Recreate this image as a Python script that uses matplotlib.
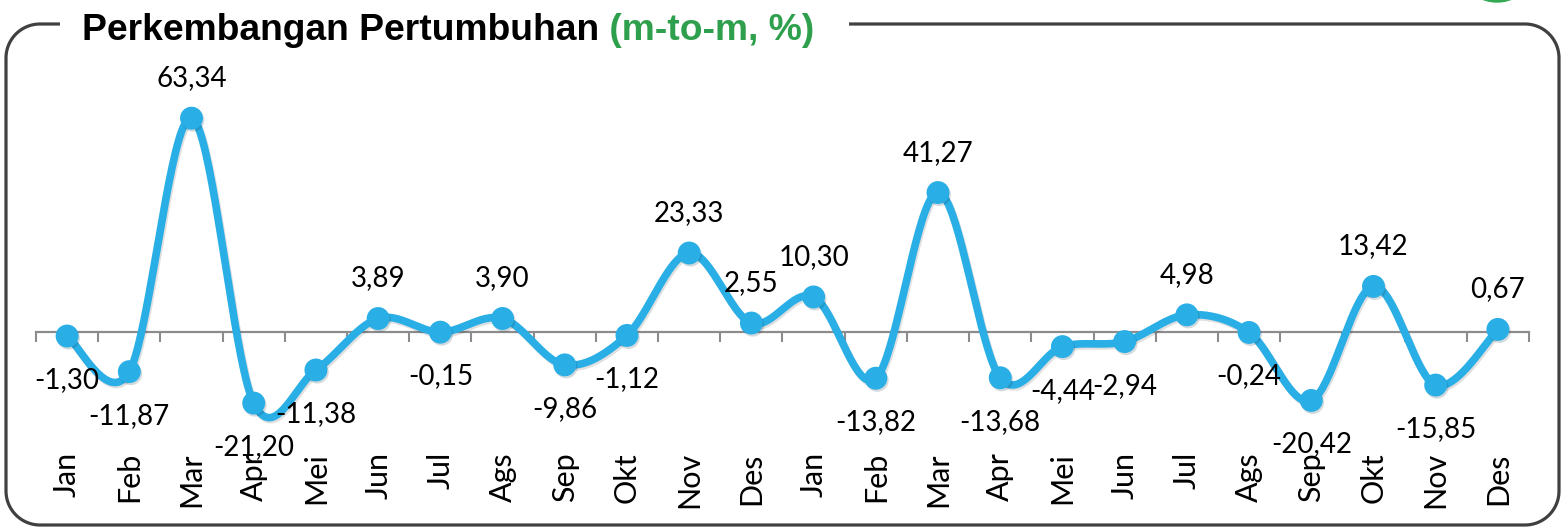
import numpy as np
import matplotlib
matplotlib.use("Agg")
import matplotlib.pyplot as plt
from matplotlib import patheffects as pe
from matplotlib.patches import Ellipse

plt.rcParams['font.family'] = ['Lato', 'DejaVu Sans']

# ---- data ----
months = ["Jan", "Feb", "Mar", "Apr", "Mei", "Jun", "Jul", "Ags", "Sep", "Okt", "Nov", "Des",
          "Jan", "Feb", "Mar", "Apr", "Mei", "Jun", "Jul", "Ags", "Sep", "Okt", "Nov", "Des"]
growth = [-1.30, -11.87, 63.34, -21.20, -11.38, 3.89, -0.15, 3.90, -9.86, -1.12, 23.33, 2.55,
          10.30, -13.82, 41.27, -13.68, -4.44, -2.94, 4.98, -0.24, -20.42, 13.42, -15.85, 0.67]
label_side = ["below", "below", "above", "below", "below", "above", "below", "above", "below",
              "below", "above", "above", "above", "below", "above", "below", "below", "below",
              "above", "below", "below", "above", "below", "above"]

title_main = "Perkembangan Pertumbuhan"
title_unit = " (m-to-m, %)"

LINE_COLOR = "#29AEE6"
GREEN = "#2EA04D"
BORDER = "#404040"
AXIS_GRAY = "#8C8C8C"

W, H = 1562, 528
fig = plt.figure(figsize=(W / 100, H / 100), dpi=100)

# ---- background / frame in pixel coordinates ----
bg = fig.add_axes([0, 0, 1, 1])
bg.set_xlim(0, W)
bg.set_ylim(H, 0)
bg.axis('off')

L, R, T, B, r = 6, 1559, 24, 525, 34
def arc(cx, cy, a0, a1, n=30):
    t = np.radians(np.linspace(a0, a1, n))
    return list(cx + r * np.cos(t)), list(cy + r * np.sin(t))

xs, ys = [849], [T]
for (cx, cy, a0, a1) in [(R - r, T + r, -90, 0), (R - r, B - r, 0, 90),
                         (L + r, B - r, 90, 180), (L + r, T + r, 180, 270)]:
    ax_, ay_ = arc(cx, cy, a0, a1)
    xs += ax_
    ys += ay_
xs.append(60)
ys.append(T)
bg.plot(xs, ys, color=BORDER, lw=2.3, solid_capstyle='butt', solid_joinstyle='round')

bg.add_patch(Ellipse((1497, -19), 58, 42, color="#35A853"))

t1 = bg.text(82, 40, title_main, fontfamily=['Liberation Sans', 'DejaVu Sans'],
             fontweight='bold', fontsize=26.8, va='baseline', ha='left', color='black')
bg.annotate(title_unit, xy=(1, 0), xycoords=t1, va='bottom', ha='left',
            fontfamily=['Liberation Sans', 'DejaVu Sans'], fontweight='bold',
            fontsize=26.8, color=GREEN)

# ---- main chart ----
ax = fig.add_axes([36 / W, 1 - 455 / H, 1493 / W, 395 / H])
ax.patch.set_alpha(0)
x = np.arange(len(growth))
y = np.array(growth, dtype=float)

# smooth curve (Catmull-Rom style Bezier, like Excel smoothed line)
pts = np.column_stack([x, y]).astype(float)
cx_all, cy_all = [], []
n = len(pts)
for i in range(n - 1):
    p0 = pts[i - 1] if i > 0 else pts[i]
    p1 = pts[i]
    p2 = pts[i + 1]
    p3 = pts[i + 2] if i + 2 < n else pts[i + 1]
    c1 = p1 + (p2 - p0) / 6
    c2 = p2 - (p3 - p1) / 6
    t = np.linspace(0, 1, 40)[:, None]
    seg = ((1 - t) ** 3) * p1 + 3 * ((1 - t) ** 2) * t * c1 + 3 * (1 - t) * t ** 2 * c2 + t ** 3 * p2
    if i > 0:
        seg = seg[1:]
    cx_all.append(seg[:, 0])
    cy_all.append(seg[:, 1])
sx = np.concatenate(cx_all)
sy = np.concatenate(cy_all)

ax.plot(sx, sy, color=LINE_COLOR, lw=5.5, solid_capstyle='round', zorder=3,
        path_effects=[pe.SimpleLineShadow(offset=(1, -1.5), alpha=0.12), pe.Normal()])
ax.plot(x, y, linestyle='none', marker='o', markersize=16.5, color=LINE_COLOR,
        markeredgewidth=0, zorder=4,
        path_effects=[pe.SimplePatchShadow(offset=(1, -1.5), alpha=0.18), pe.Normal()])

for xi, yi, side in zip(x, y, label_side):
    off = 40 if side == "above" else -44
    ax.annotate(f"{yi:.2f}".replace('.', ','), xy=(xi, yi), xytext=(0, off),
                textcoords='offset pixels', ha='center', va='center',
                fontsize=20, color='black', zorder=5)

ax.set_xlim(-0.5, len(growth) - 0.5)
ax.set_ylim(-36.6, 80.6)
for s in ['top', 'left', 'right']:
    ax.spines[s].set_visible(False)
ax.spines['bottom'].set_position(('data', 0))
ax.spines['bottom'].set_color(AXIS_GRAY)
ax.spines['bottom'].set_linewidth(1.6)
ax.spines['bottom'].set_zorder(1)
ax.set_xticks(np.arange(-0.5, len(growth), 1))
ax.set_xticklabels([])
ax.tick_params(axis='x', direction='out', length=7.5, width=1.5, color=AXIS_GRAY)
ax.set_yticks([])

sec = ax.secondary_xaxis(0)
sec.set_xticks(x, labels=months)
sec.tick_params(length=0, pad=-2, labelsize=22, labelrotation=90)
sec.spines['bottom'].set_visible(False)

fig.savefig("out.png", dpi=100)
